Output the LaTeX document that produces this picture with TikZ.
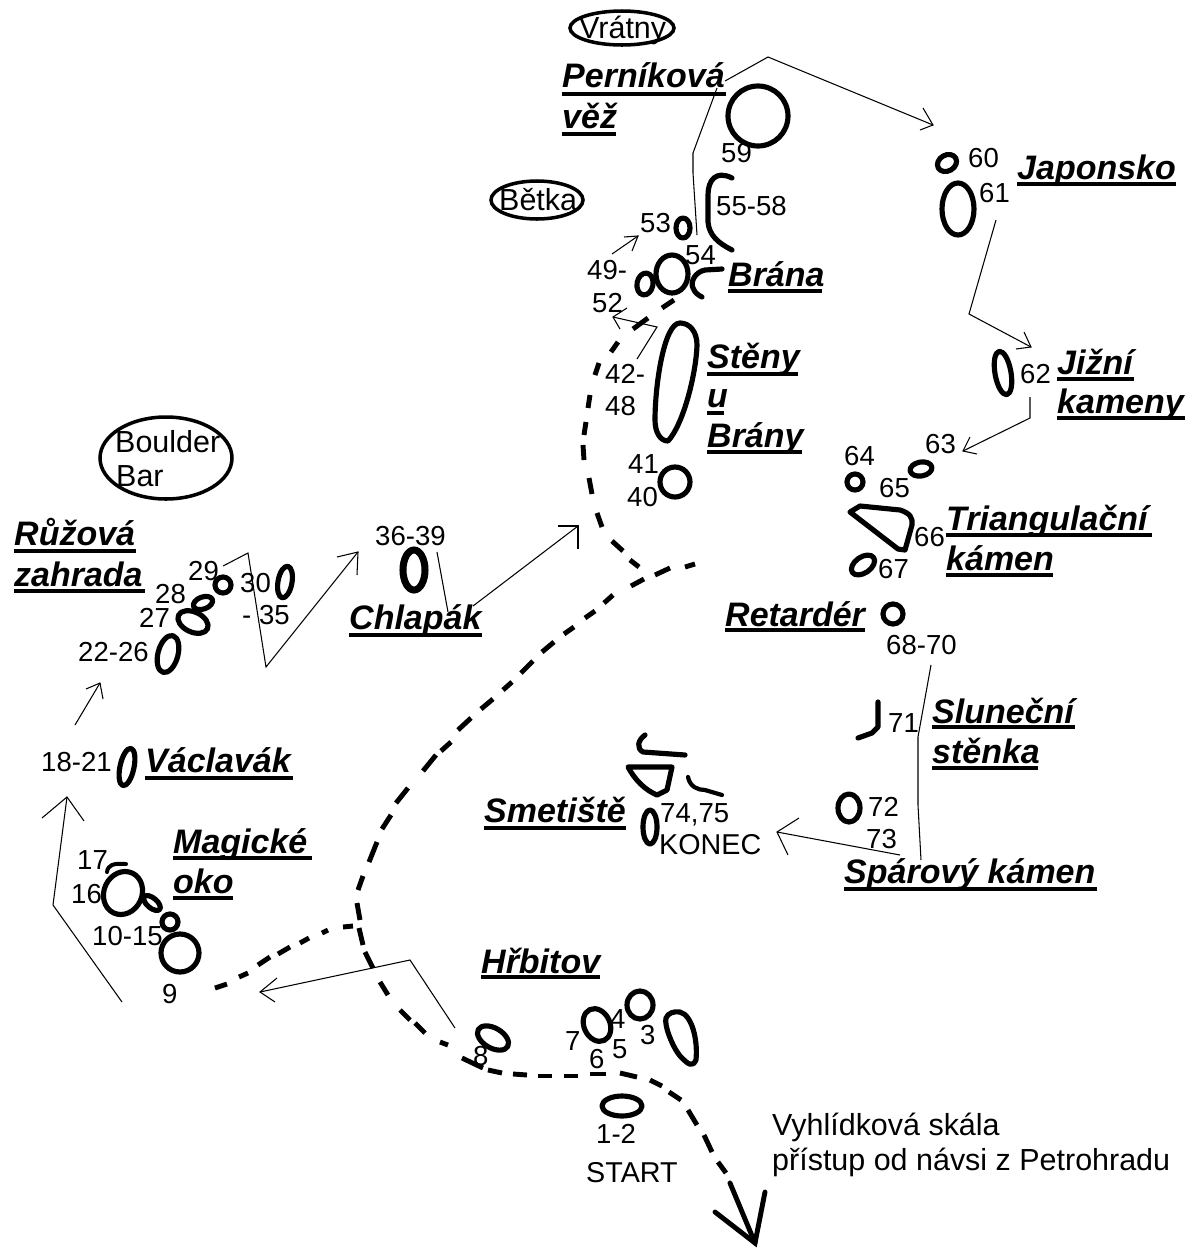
\documentclass[tikz,border=0pt]{standalone}
\usepackage{fontspec}
\setmainfont{Liberation Sans}
\tikzset{
  x=0.03cm,y=-0.03cm,
  rockline/.style={draw=black,line width=4.4pt,line join=round,line cap=round},
  thick rock/.style={draw=black,line width=6pt},
  oval/.style={draw=black,line width=3pt},
  thin route/.style={draw=black,line width=0.9pt,line join=miter},
  dashseg/.style={draw=black,line width=4.2pt,line cap=butt},
  arrowseg/.style={draw=black,line width=4.2pt,line cap=round,line join=miter},
  num/.style={anchor=base west,inner sep=0pt,font=\fontsize{23.5}{26}\selectfont},
  big/.style={num,font=\fontsize{26}{28}\selectfont},
  ttlnode/.style={anchor=base west,inner sep=0pt,font=\fontsize{29}{30}\selectfont\bfseries\itshape},
  ulin/.style={draw=black,line width=2.7pt}
}
\newcommand\rock[6][rockline]{\draw[#1,shift={(#2,#3)},rotate=#6] (0,0) ellipse [x radius=#4,y radius=#5];}
\newcommand\ttl[6]{\node[ttlnode] (#1) at (#2,#3) {#6};\draw[ulin] (#2,#4) -- (#5,#4);}
\newcommand\num[4]{\node[num] (#1) at (#2,#3) {#4};}
\newcommand\lbig[4]{\node[big] (#1) at (#2,#3) {#4};}
\begin{document}
\begin{tikzpicture}
\useasboundingbox (0,0) rectangle (1197,1248);
\fill[white] (0,0) rectangle (1197,1248);
% ---- titles
\ttl{tPern}{562}{87}{94}{726}{Perníková}
\ttl{tVez}{562}{128}{134}{616}{věž}
\ttl{tJap}{1017}{179}{184}{1176}{Japonsko}
\ttl{tJiz}{1057}{374}{379}{1134}{Jižní}
\ttl{tKam}{1057}{413}{418}{1185}{kameny}
\ttl{tBrana}{728}{286}{291}{822}{Brána}
\ttl{tSten}{707}{368}{374}{798}{Stěny}
\ttl{tU}{707}{407}{413}{724}{u}
\ttl{tBrany}{707}{447}{452}{802}{Brány}
\ttl{tTri}{946}{530}{535}{1152}{Triangulační}
\ttl{tKamen}{946}{570}{575}{1053}{kámen}
\ttl{tRet}{725}{626}{630}{865}{Retardér}
\ttl{tSlu}{932}{723}{727}{1075}{Sluneční}
\ttl{tStenka}{932}{763}{768}{1038}{stěnka}
\ttl{tSpar}{844}{883}{889}{1097}{Spárový kámen}
\ttl{tSmet}{484}{822}{828}{626}{Smetiště}
\ttl{tHrb}{481}{973}{977}{600}{Hřbitov}
\ttl{tRuz}{14}{545}{551}{136}{Růžová}
\ttl{tZah}{14}{586}{591}{145}{zahrada}
\ttl{tChl}{349}{629}{635}{482}{Chlapák}
\ttl{tVac}{145}{772}{778}{293}{Václavák}
\ttl{tMag}{173}{853}{858}{312}{Magické}
\ttl{tOko}{173}{893}{898}{233}{oko}
% ---- numbers
\num{n59}{721}{162}{59}
\num{n55}{716}{215}{55-58}
\num{n53}{640}{232}{53}
\num{n54}{685}{264}{54}
\num{n49}{587}{279}{49-}
\num{n52}{592}{312}{52}
\num{n42}{605}{383}{42-}
\num{n48}{605}{415}{48}
\num{n41}{628}{473}{41}
\num{n40}{627}{506}{40}
\num{n36}{375}{545}{36-39}
\num{n29}{188}{580}{29}
\num{n30}{240}{592}{30}
\num{n28}{155}{603}{28}
\num{n27}{139}{627}{27}
\num{n35}{242}{624}{- 35}
\num{n22}{78}{661}{22-26}
\num{n18}{41}{771}{18-21}
\num{n17}{77}{869}{17}
\num{n16}{71}{903}{16}
\num{n10}{92}{945}{10-15}
\num{n9}{162}{1003}{9}
\num{n74}{660}{822}{74,75}
\node[num,font=\fontsize{24.5}{26}\selectfont] (nKon) at (659,854) {KONEC};
\num{n3}{640}{1044}{3}
\num{n4}{610}{1028}{4}
\num{n5}{612}{1058}{5}
\num{n6}{589}{1068}{6}
\num{n7}{565}{1050}{7}
\num{n8}{473}{1065}{8}
\num{n1}{596}{1143}{1-2}
\node[num,font=\fontsize{24.5}{26}\selectfont] (nSta) at (586,1182) {START};
\num{n63}{925}{453}{63}
\num{n64}{844}{465}{64}
\num{n65}{879}{497}{65}
\num{n66}{914}{546}{66}
\num{n67}{878}{578}{67}
\num{n68}{886}{654}{68-70}
\num{n60}{968}{167}{60}
\num{n61}{979}{202}{61}
\num{n62}{1020}{383}{62}
\num{n71}{888}{732}{71}
\num{n72}{868}{816}{72}
\num{n73}{866}{848}{73}
\lbig{nVra}{579}{38}{Vrátny}
\lbig{nBet}{499}{210}{Bětka}
\lbig{nBou}{115}{452}{Boulder}
\lbig{nBar}{116}{486}{Bar}
\lbig{nVyh}{772}{1135}{Vyhlídková skála}
\lbig{nPri}{772}{1170}{přístup od návsi z Petrohradu}
% ---- labelled ovals
\rock[oval]{622}{28}{52}{17}{0}
\rock[oval]{537}{200}{46}{19}{0}
\rock[oval]{166}{458}{66}{41}{0}
% ---- rocks
\rock{758}{116}{30}{30}{0}
\rock{683}{228}{7}{10}{0}
\rock{672}{274}{16}{19}{0}
\rock{645}{284}{8}{11}{-10}
\rock{675}{482}{15}{15}{0}
\rock[thick rock]{414}{570}{11}{20}{0}
\rock{223}{585}{8}{8}{0}
\rock{203}{603}{10}{6}{20}
\rock{193}{622}{16}{10}{-25}
\rock{285}{582}{7}{16}{-10}
\rock{168}{654}{10}{19}{-15}
\rock{127}{767}{7}{19}{-12}
\rock{123}{893}{19}{22}{-25}
\rock{152}{903}{10}{5}{-40}
\rock{170}{922}{8}{8}{0}
\rock{180}{953}{19}{19}{0}
\rock{650}{827}{7}{17}{0}
\rock{640}{1005}{13}{14}{0}
\rock{597}{1025}{13}{17}{25}
\rock{493}{1038}{17}{10}{-30}
\rock{622}{1106}{20}{10}{0}
\rock{947}{163}{10}{8}{30}
\rock{958}{209}{16}{26}{0}
\rock{1003}{373}{8}{22}{10}
\rock{921}{469}{11}{7}{10}
\rock{855}{482}{8}{8}{0}
\rock{863}{565}{13}{8}{35}
\rock{893}{614}{10}{10}{0}
\rock{849}{808}{11}{14}{0}
% irregular rocks and brackets
\draw[rockline] (680,323) .. controls (690,323) and (697,332) .. (697,345) .. controls (696,375) and (683,425) .. (668,441) .. controls (660,441) and (655,432) .. (655,420) .. controls (655,385) and (664,323) .. (680,323) -- cycle;
\draw[rockline] (680,1012) .. controls (692,1015) and (698,1040) .. (696,1060) .. controls (692,1068) and (688,1064) .. (680,1056) .. controls (672,1046) and (664,1025) .. (666,1018) .. controls (668,1013) and (674,1011) .. (680,1012) -- cycle;
\draw[rockline] (732,178) .. controls (716,170) and (708,180) .. (708,195) -- (708,222) .. controls (709,235) and (718,243) .. (732,250);
\draw[rockline] (722,269) -- (705,270) .. controls (695,272) and (690,282) .. (693,288) .. controls (695,293) and (698,295) .. (702,297);
\draw[rockline] (645,735) .. controls (638,740) and (636,748) .. (643,752) -- (685,755);
\draw[rockline] (628,767) -- (672,767) -- (667,790) -- (657,795) .. controls (645,790) and (635,780) .. (628,767) -- cycle;
\draw[rockline,line width=3.6pt] (688,777) .. controls (690,787) and (698,790) .. (705,790) -- (722,795);
\draw[rockline] (850,512) -- (860,506) -- (900,510) .. controls (910,513) and (913,518) .. (912,525) -- (905,550) -- (898,549) -- cycle;
\draw[rockline] (878,702) -- (878,727) -- (872,733) -- (858,738);
\draw[rockline,line width=3.4pt] (107,872) .. controls (108,865) and (113,863) .. (126,864);
% ---- dashed paths
\foreach \a/\b/\c/\d in {674/300/662/308,648/318/633/329,618/342/611/352,599/363/595/375,590/395/588/408,586/422/584/435,583/445/584/460,589/478/592/494,597/513/602/527,612/541/623/551,630/560/639/567,
 695/564/685/567,670/568/655/575,644/579/631/586,613/595/604/603,595/611/585/618,574/627/564/634,554/642/542/652,533/661/521/673,512/682/503/690,493/699/481/709,471/718/458/730,451/742/441/751,436/755/423/771,
 408/788/396/803,391/815/382/829,377/842/369/862,363/876/358/890,357/903/360/920,359/928/363/945,365/952/373/968,380/982/388/995,400/1010/410/1020,415/1023/425/1033,440/1042/448/1045,
 353/926/343/927,328/930/322/933,309/938/300/943,290/947/278/954,270/957/258/965,248/973/239/977,227/984/215/988,
 462/1058/483/1068,488/1070/502/1073,513/1074/527/1075,538/1076/552/1076,564/1076/578/1076,590/1074/606/1074,620/1073/637/1077,650/1080/662/1086,669/1092/681/1100,688/1110/697/1125,704/1135/712/1152,718/1162/726/1173}
 {\draw[dashseg] (\a,\b) -- (\c,\d);}
\draw[arrowseg] (730,1183) -- (755,1243);
\draw[arrowseg] (715,1212) -- (755,1243) -- (765,1192);
% ---- thin routes
\draw[thin route] (122,1002) -- (53,905) -- (67,797);
\draw[thin route] (42,818) -- (67,797) -- (84,821);
\draw[thin route] (75,725) -- (100,683);
\draw[thin route] (86,689) -- (100,683) -- (103,699);
\draw[thin route] (223,566) -- (248,553) -- (266,667) -- (358,552);
\draw[thin route] (337,557) -- (358,552) -- (357,575);
\draw[thin route] (437,552) -- (448,612);
\draw[thin route] (473,606) -- (578,526);
\draw[thin route] (558,526) -- (578,526) -- (578,549);
\draw[thin route] (637,359) -- (657,327) -- (613,317);
\draw[thin route] (627,308) -- (613,317) -- (620,329);
\draw[thin route] (612,254) -- (638,236);
\draw[thin route] (624,237) -- (638,236) -- (632,251);
\draw[thin route] (697,235) -- (693,173) -- (693,153) -- (717,88);
\draw[thin route] (725,81) -- (768,57) -- (933,125);
\draw[thin route] (923,108) -- (933,125) -- (920,130);
\draw[thin route] (996,220) -- (969,314) -- (1031,347);
\draw[thin route] (1016,349) -- (1031,347) -- (1024,332);
\draw[thin route] (1030,397) -- (1030,418) -- (963,451);
\draw[thin route] (970,437) -- (963,451) -- (977,454);
\draw[thin route] (931,665) -- (918,737) -- (918,805) -- (921,860);
\draw[thin route] (900,855) -- (777,832);
\draw[thin route] (799,818) -- (777,832) -- (788,855);
\draw[thin route] (455,1028) -- (410,960) -- (260,992);
\draw[thin route] (277,978) -- (260,992) -- (275,1002);
\end{tikzpicture}
\end{document}
